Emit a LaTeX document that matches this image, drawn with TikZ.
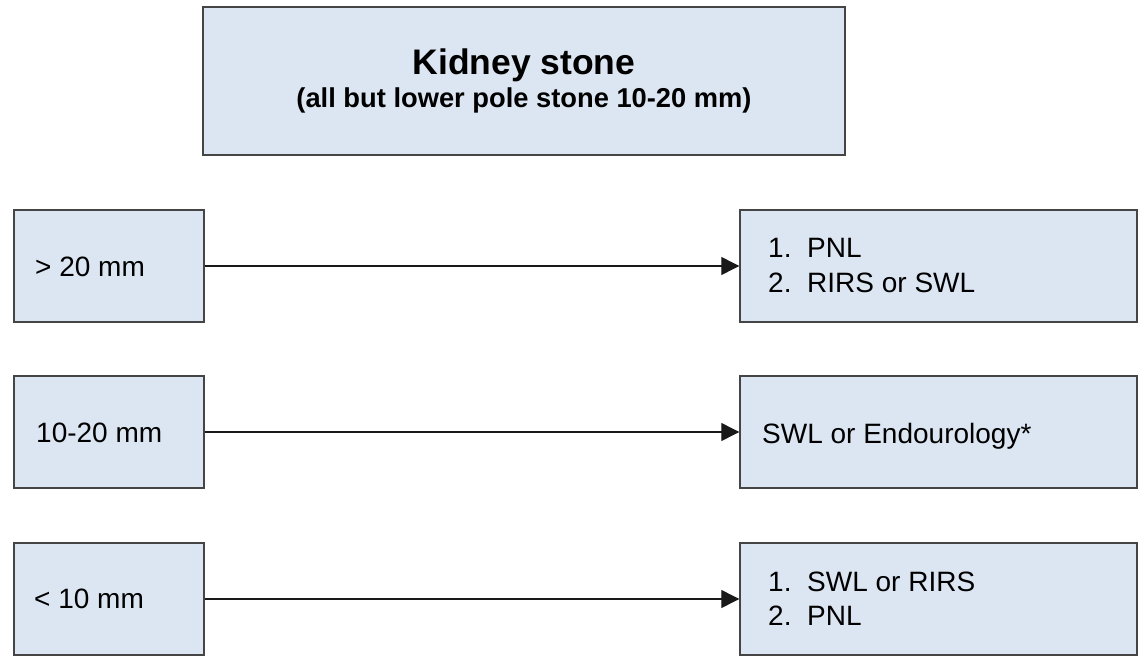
\documentclass[tikz,border=0pt]{standalone}
\usepackage{fontspec}
\setmainfont{Liberation Sans}
\usetikzlibrary{arrows.meta}
\definecolor{boxfill}{HTML}{DCE6F2}
\definecolor{boxline}{HTML}{454545}
\tikzset{
  panel/.style={draw=boxline, line width=1.4pt, fill=boxfill, rectangle,
    inner sep=0pt, minimum width=#1},
  sidebox/.style={panel=190pt, minimum height=112pt},
  resultbox/.style={panel=397pt, minimum height=112pt},
  txt/.style={anchor=base west, inner sep=0pt, font=\fontsize{28}{35}\selectfont},
  flow/.style={draw=black!90, line width=1.2pt,
    -{Triangle[length=18pt,width=18pt]}}
}
\begin{document}
\begin{tikzpicture}[x=1pt,y=-1pt]
\useasboundingbox (0,0) rectangle (1144,656);

% header box
\node[panel=642pt, minimum height=148pt] (head) at (524,81) {};
\node[anchor=base, inner sep=0pt, font=\fontsize{35.5}{36}\selectfont\bfseries]
  (headtitle) at (524,74) {Kidney stone};
\node[anchor=base, inner sep=0pt, font=\fontsize{27.3}{30}\selectfont\bfseries]
  (headsub) at (524,107) {(all but lower pole stone 10-20 mm)};

% size classes
\node[sidebox] (big) at (109,266) {};
\node[sidebox] (mid) at (109,432) {};
\node[sidebox] (small) at (109,599) {};
\node[txt] (bigtxt) at (35,276) {> 20 mm};
\node[txt] (midtxt) at (36,442) {10-20 mm};
\node[txt] (smalltxt) at (34,608) {< 10 mm};

% recommended treatment
\node[resultbox] (rbig) at (938.5,266) {};
\node[resultbox] (rmid) at (938.5,432) {};
\node[resultbox] (rsmall) at (938.5,599) {};

\node[txt] (rbigna) at (768,257) {1.};
\node[txt] (rbigta) at (807,257) {PNL};
\node[txt] (rbignb) at (768,292) {2.};
\node[txt] (rbigtb) at (807,292) {RIRS or SWL};

\node[txt] (rmidt) at (762,443) {SWL or Endourology*};

\node[txt] (rsmallna) at (768,591) {1.};
\node[txt] (rsmallta) at (807,591) {SWL or RIRS};
\node[txt] (rsmallnb) at (768,625) {2.};
\node[txt] (rsmalltb) at (807,625) {PNL};

% connectors
\draw[flow] (big) -- (rbig);
\draw[flow] (mid) -- (rmid);
\draw[flow] (small) -- (rsmall);
\end{tikzpicture}
\end{document}
